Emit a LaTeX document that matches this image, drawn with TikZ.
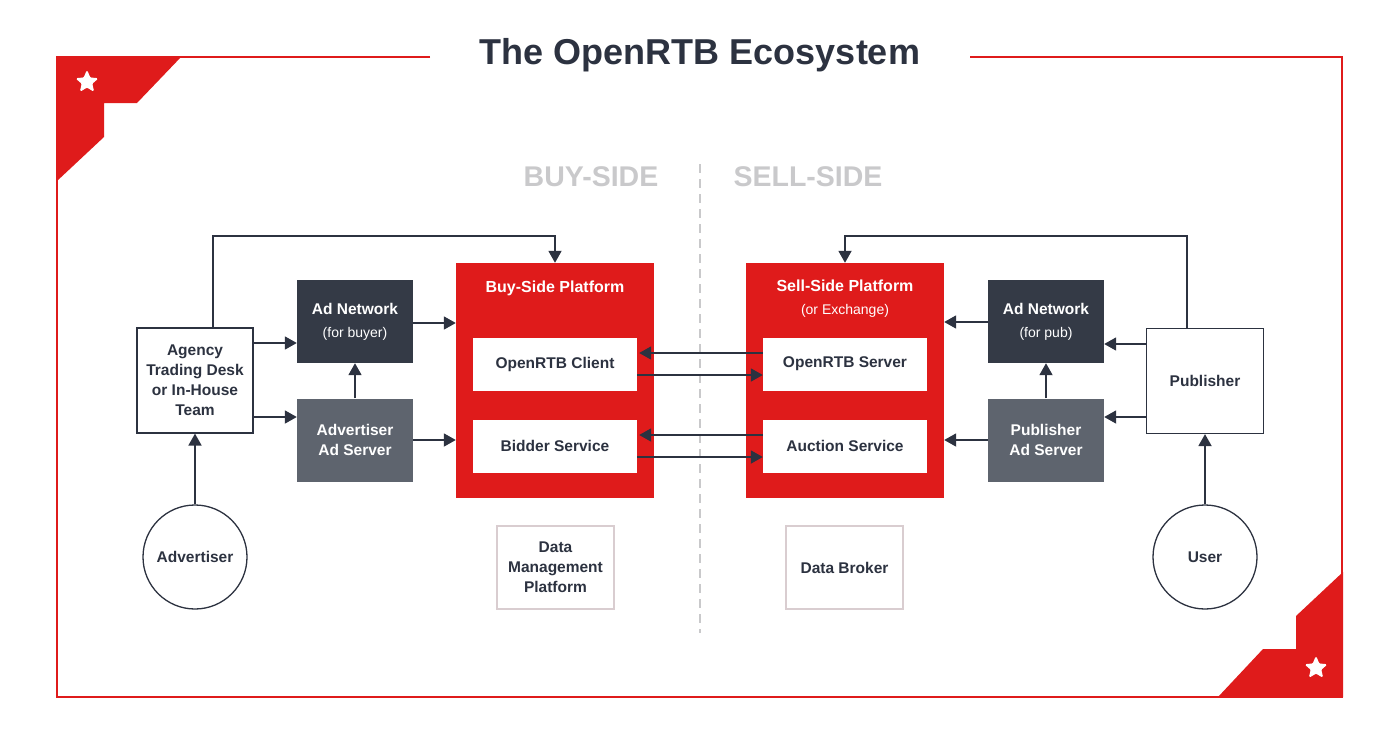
\documentclass[tikz,border=0pt]{standalone}
\usepackage{fontspec}
\setmainfont{Liberation Sans}
\usetikzlibrary{arrows.meta,shapes.geometric,calc}
\definecolor{rtbred}{HTML}{DF1B1B}
\definecolor{navy}{HTML}{2C3240}
\definecolor{darkbox}{HTML}{343A46}
\definecolor{greybox}{HTML}{5E646E}
\definecolor{sidegrey}{HTML}{C9C9CB}
\definecolor{lightedge}{HTML}{D9CDD0}
\begin{document}
\begin{tikzpicture}[x=1pt,y=-1pt,
  every node/.style={font=\fontsize{15.5}{20}\selectfont\bfseries, text=navy, align=center, inner sep=0pt},
  whitebox/.style={draw=navy, line width=1.2pt, fill=white, minimum width=116pt, minimum height=105pt},
  darkfill/.style={fill=darkbox, text=white, minimum width=116pt, minimum height=83pt},
  greyfill/.style={fill=greybox, text=white, minimum width=116pt, minimum height=83pt},
  redbox/.style={fill=rtbred, minimum width=198pt, minimum height=235pt},
  innerbox/.style={fill=white, minimum width=164pt, minimum height=53pt},
  databox/.style={draw=lightedge, line width=1.2pt, fill=white, minimum width=117pt, minimum height=83pt},
  actor/.style={circle, draw=navy, line width=1.3pt, minimum size=104pt},
  starmark/.style={star, star points=5, star point ratio=2.2, fill=white, draw=white, line width=1pt, rounded corners=1pt, minimum size=22pt},
  arr/.style={draw=navy, line width=1.8pt, -{Triangle[length=12pt,width=13pt]}},
]
\useasboundingbox (0,0) rectangle (1400,739);

% frame
\fill[rtbred] (57,56) -- (182,56) -- (137,103) -- (104,103) -- (104,137) -- (57,181) -- cycle;
\fill[rtbred] (1343,697) -- (1218,697) -- (1263,649) -- (1296,649) -- (1296,616) -- (1343,572) -- cycle;
\draw[rtbred, line width=2.8pt] (430,57) -- (57,57) -- (57,697) -- (1342,697) -- (1342,57) -- (970,57);
\node[starmark] (star1) at (87,82) {};
\node[starmark] (star2) at (1316,668) {};

% title
\node[font=\fontsize{36}{40}\selectfont\bfseries, text=navy] (title) at (700,55) {The OpenRTB Ecosystem};

% sides
\node[font=\fontsize{28.5}{32}\selectfont\bfseries, text=sidegrey] (buy) at (591,177) {BUY-SIDE};
\node[font=\fontsize{28.5}{32}\selectfont\bfseries, text=sidegrey] (sell) at (808,177) {SELL-SIDE};
\draw[sidegrey, line width=2.5pt, dash pattern=on 9pt off 6pt] (700,164) -- (700,633);

% buy side
\node[whitebox] (agency) at (195,380.5) {Agency\\Trading Desk\\or In-House\\Team};
\node[darkfill] (adnetb) at (355,321.5) {Ad Network\\[3pt]{\fontsize{14}{16}\selectfont\mdseries (for buyer)}};
\node[greyfill] (adsrva) at (355,440) {Advertiser\\Ad Server};
\node[actor] (advertiser) at (195,557) {Advertiser};
\node[redbox] (bsp) at (555,380.5) {};
\node[text=white, font=\fontsize{16}{20}\selectfont\bfseries] (bsptitle) at (555,288) {Buy-Side Platform};
\node[innerbox] (client) at (555,364) {OpenRTB Client};
\node[innerbox] (bidder) at (555,446) {Bidder Service};
\node[databox] (dmp) at (555.5,567.5) {Data\\Management\\Platform};

% sell side
\node[redbox] (ssp) at (845,380.5) {};
\node[text=white, font=\fontsize{16}{20}\selectfont\bfseries] (ssptitle) at (845,299) {Sell-Side Platform\\[3pt]{\fontsize{14}{16}\selectfont\mdseries (or Exchange)}};
\node[innerbox] (server) at (845,364) {OpenRTB Server};
\node[innerbox] (auction) at (845,446) {Auction Service};
\node[databox] (broker) at (844.5,567.5) {Data Broker};
\node[darkfill] (adnetp) at (1046,321.5) {Ad Network\\[3pt]{\fontsize{14}{16}\selectfont\mdseries (for pub)}};
\node[greyfill] (pubsrv) at (1046,440) {Publisher\\Ad Server};
\node[whitebox, minimum width=117pt] (publisher) at (1205,381) {Publisher};
\node[actor] (user) at (1205,557) {User};

% buy-side connectors
\draw[arr] ([yshift=37.5pt]agency.east) -- ([yshift=-21.5pt]adnetb.west);
\draw[arr] ([yshift=-36.5pt]agency.east) -- ([yshift=23pt]adsrva.west);
\draw[arr] (adsrva.north) -- (adnetb.south);
\draw[arr] ([yshift=-1.5pt]adnetb.east) -- ([yshift=57.5pt]bsp.west);
\draw[arr] (adsrva.east) -- ([yshift=-59.5pt]bsp.west);
\draw[arr] (advertiser.north) -- (agency.south);
\draw[arr] ([xshift=18pt]agency.north) |- ([yshift=27pt]bsp.north) -- (bsp.north);

% middle connectors
\draw[arr] ([yshift=11pt]server.west) -- ([yshift=11pt,xshift=2pt]client.east);
\draw[arr] ([yshift=-11pt]client.east) -- ([yshift=-11pt]server.west);
\draw[arr] ([yshift=11pt]auction.west) -- ([yshift=11pt,xshift=2pt]bidder.east);
\draw[arr] ([yshift=-11pt]bidder.east) -- ([yshift=-11pt]auction.west);

% sell-side connectors
\draw[arr] ([yshift=-0.5pt]adnetp.west) -- ([yshift=58.5pt]ssp.east);
\draw[arr] (pubsrv.west) -- ([yshift=-59.5pt]ssp.east);
\draw[arr] (pubsrv.north) -- (adnetp.south);
\draw[arr] ([yshift=37pt]publisher.west) -- ([yshift=-22.5pt]adnetp.east);
\draw[arr] ([yshift=-36pt]publisher.west) -- ([yshift=23pt]pubsrv.east);
\draw[arr] (user.north) -- (publisher.south);
\draw[arr] ([xshift=-18pt]publisher.north) |- ([yshift=27pt]ssp.north) -- (ssp.north);
\end{tikzpicture}
\end{document}
